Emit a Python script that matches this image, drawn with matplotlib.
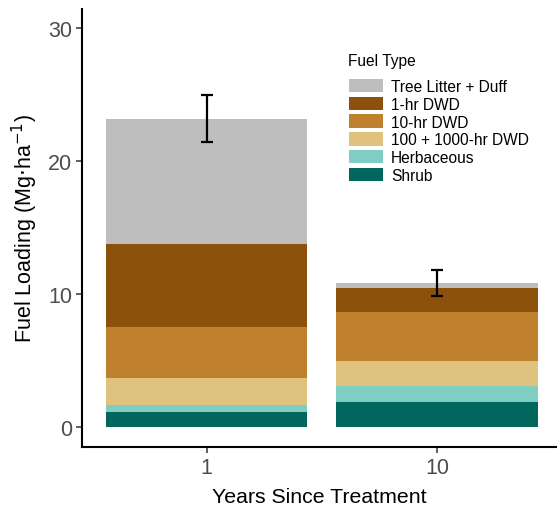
import numpy as np
import matplotlib.pyplot as plt

plt.rcParams['font.family'] = ['Liberation Sans', 'DejaVu Sans']

# ── DATA ─────────────────────────────────────────────────────────────────────
years = ['1', '10']
fuel_types = ['Shrub', 'Herbaceous', '100 + 1000-hr DWD', '10-hr DWD',
              '1-hr DWD', 'Tree Litter + Duff']
shrub = [1.13, 1.84]
herbaceous = [0.50, 1.20]
dwd_100_1000 = [2.04, 1.91]
dwd_10 = [3.81, 3.66]
dwd_1 = [6.28, 1.83]
litter_duff = [9.41, 0.36]
err_low = [21.4, 9.86]
err_high = [24.97, 11.82]

colors = ['#01665E', '#80CDC1', '#DFC27D', '#BF812D', '#8C510A', '#BEBEBE']

# ── PLOT ─────────────────────────────────────────────────────────────────────
fig = plt.figure(figsize=(5.57, 5.10), dpi=100)
ax = fig.add_axes([82 / 557, 1 - 448 / 510, (557 - 82) / 557, (448 - 10) / 510])

x = np.arange(1, len(years) + 1)
layers = [shrub, herbaceous, dwd_100_1000, dwd_10, dwd_1, litter_duff]
bottom = np.zeros(len(years))
handles = []
for name, vals, col in zip(fuel_types, layers, colors):
    b = ax.bar(x, vals, width=0.875, bottom=bottom, color=col, label=name,
               edgecolor='none')
    handles.append(b)
    bottom += np.array(vals)

mid = (np.array(err_low) + np.array(err_high)) / 2
half = (np.array(err_high) - np.array(err_low)) / 2
ax.errorbar(x, mid, yerr=half, fmt='none', ecolor='black', elinewidth=1.6,
            capsize=4, capthick=1.6, zorder=5)

ax.set_xlim(0.46, 2.52)
ax.set_ylim(-1.53, 31.45)
ax.set_xticks(x)
ax.set_xticklabels(years)
ax.set_yticks([0, 10, 20, 30])

for s in ['top', 'right']:
    ax.spines[s].set_visible(False)
for s in ['left', 'bottom']:
    ax.spines[s].set_linewidth(1.5)
ax.tick_params(axis='both', length=4, width=1.1, color='#333333',
               labelcolor='#4D4D4D', labelsize=15.5, pad=3)

ax.set_xlabel('Years Since Treatment', fontsize=15.3, labelpad=7)
ax.set_ylabel(r'Fuel Loading (Mg$\cdot$ha$^{-1}$)', fontsize=15.5, labelpad=6)

# legend title placed on its own, entries below it
ax.text(0.56, 0.882, 'Fuel Type', transform=ax.transAxes, fontsize=11.2,
        ha='left', va='center')
leg = ax.legend(handles[::-1], fuel_types[::-1],
                frameon=False, fontsize=11.2,
                loc='upper left', bbox_to_anchor=(0.562, 0.840),
                borderaxespad=0, borderpad=0,
                handlelength=2.2, handleheight=0.95, labelspacing=0.17,
                handletextpad=0.5)

plt.savefig('out.png', dpi=100)
